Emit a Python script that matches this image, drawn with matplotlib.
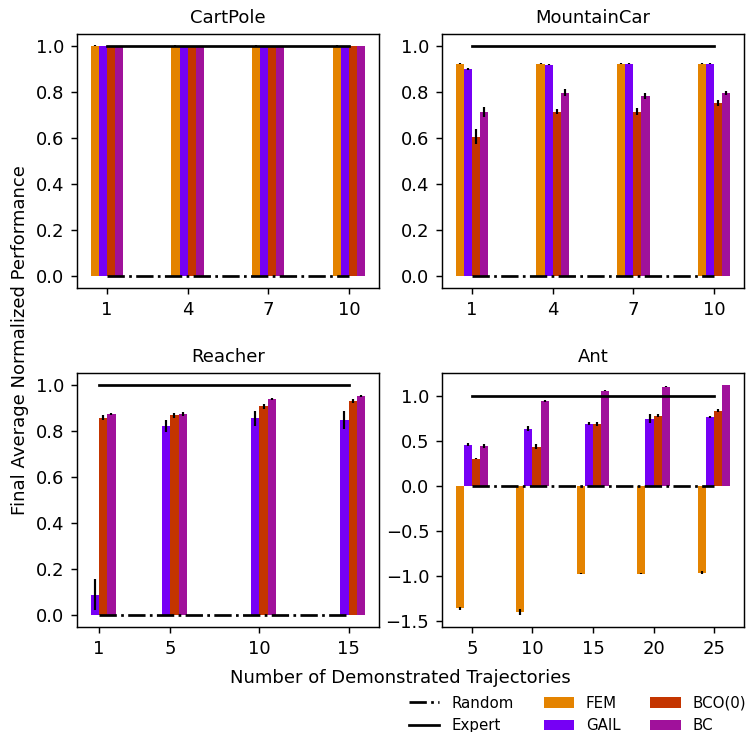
import numpy as np
import matplotlib
matplotlib.use("Agg")
import matplotlib.pyplot as plt

# environments and number of demonstrated trajectories
envs = ["CartPole", "MountainCar", "Reacher", "Ant"]
cartpole_x = [1, 4, 7, 10]
mountaincar_x = [1, 4, 7, 10]
reacher_x = [1, 5, 10, 15]
ant_x = [5, 10, 15, 20, 25]

methods = ["FEM", "GAIL", "BCO(0)", "BC"]
colors = ["#e48300", "#7600f5", "#c43500", "#a0119b"]

# final average normalized performance (mean, std)
cartpole_fem = [1.0, 1.0, 1.0, 1.0]
cartpole_gail = [1.0, 1.0, 1.0, 1.0]
cartpole_bco = [1.0, 1.0, 1.0, 1.0]
cartpole_bc = [1.0, 1.0, 1.0, 1.0]
cartpole_fem_err = [0.003, 0.003, 0.003, 0.003]
cartpole_gail_err = [0.0, 0.0, 0.0, 0.0]
cartpole_bco_err = [0.0, 0.0, 0.0, 0.0]
cartpole_bc_err = [0.0, 0.0, 0.0, 0.0]

mountaincar_fem = [0.921, 0.921, 0.921, 0.921]
mountaincar_gail = [0.899, 0.917, 0.921, 0.921]
mountaincar_bco = [0.605, 0.713, 0.713, 0.752]
mountaincar_bc = [0.713, 0.795, 0.782, 0.795]
mountaincar_fem_err = [0.003, 0.003, 0.003, 0.003]
mountaincar_gail_err = [0.003, 0.002, 0.003, 0.003]
mountaincar_bco_err = [0.032, 0.01, 0.016, 0.014]
mountaincar_bc_err = [0.022, 0.015, 0.013, 0.01]

reacher_fem = [np.nan, np.nan, np.nan, np.nan]
reacher_gail = [0.089, 0.820, 0.853, 0.846]
reacher_bco = [0.857, 0.867, 0.906, 0.928]
reacher_bc = [0.872, 0.872, 0.936, 0.950]
reacher_fem_err = [np.nan, np.nan, np.nan, np.nan]
reacher_gail_err = [0.067, 0.025, 0.033, 0.04]
reacher_bco_err = [0.01, 0.01, 0.01, 0.01]
reacher_bc_err = [0.005, 0.01, 0.005, 0.005]

ant_fem = [-1.356, -1.40, -0.97, -0.97, -0.959]
ant_gail = [0.46, 0.636, 0.691, 0.746, 0.768]
ant_bco = [0.305, 0.438, 0.691, 0.779, 0.835]
ant_bc = [0.445, 0.945, 1.055, 1.10, 1.121]
ant_fem_err = [0.02, 0.035, 0.01, 0.01, 0.015]
ant_gail_err = [0.02, 0.025, 0.015, 0.05, 0.01]
ant_bco_err = [0.01, 0.03, 0.02, 0.015, 0.015]
ant_bc_err = [0.02, 0.01, 0.005, 0.005, 0.005]

expert = 1.0
random_perf = 0.0

xs = [cartpole_x, mountaincar_x, reacher_x, ant_x]
means = [
    [cartpole_fem, cartpole_gail, cartpole_bco, cartpole_bc],
    [mountaincar_fem, mountaincar_gail, mountaincar_bco, mountaincar_bc],
    [reacher_fem, reacher_gail, reacher_bco, reacher_bc],
    [ant_fem, ant_gail, ant_bco, ant_bc],
]
errs = [
    [cartpole_fem_err, cartpole_gail_err, cartpole_bco_err, cartpole_bc_err],
    [mountaincar_fem_err, mountaincar_gail_err, mountaincar_bco_err, mountaincar_bc_err],
    [reacher_fem_err, reacher_gail_err, reacher_bco_err, reacher_bc_err],
    [ant_fem_err, ant_gail_err, ant_bco_err, ant_bc_err],
]

fig, axes = plt.subplots(2, 2, figsize=(747 / 130, 732 / 130), dpi=130)
fig.subplots_adjust(left=0.103, right=0.996, bottom=0.1434, top=0.9536,
                    wspace=0.2086, hspace=0.3346)

for ax, env, x, m, e in zip(axes.flat, envs, xs, means, errs):
    x = np.array(x, dtype=float)
    w = (x[-1] - x[0]) / 30
    for i in range(4):
        ax.bar(x + (i - 1.5) * w, m[i], w, yerr=e[i], color=colors[i],
               label=methods[i], error_kw=dict(ecolor="black", elinewidth=1.2))
    ax.plot([x[0], x[-1]], [random_perf, random_perf], "k-.", label="Random")
    ax.plot([x[0], x[-1]], [expert, expert], "k-", label="Expert")
    ax.set_xticks(x)
    ax.set_xticklabels([str(int(v)) for v in x])
    ax.set_title(env, fontsize=10)
    if env != "Ant":
        ax.set_ylim(-0.05, 1.05)

# legend: Random/Expert in the first column, then the methods
h, l = axes[0, 0].get_legend_handles_labels()
fig.legend(h, l, ncol=3, frameon=False, fontsize="small", loc="upper right",
           bbox_to_anchor=(1.017, 0.068))

fig.text(400 / 747, 1 - 678 / 732, "Number of Demonstrated Trajectories",
         ha="center", va="center")
fig.text(20 / 747, 1 - 340 / 732, "Final Average Normalized Performance",
         ha="center", va="center", rotation=90)

plt.savefig("out.png", dpi=130)
